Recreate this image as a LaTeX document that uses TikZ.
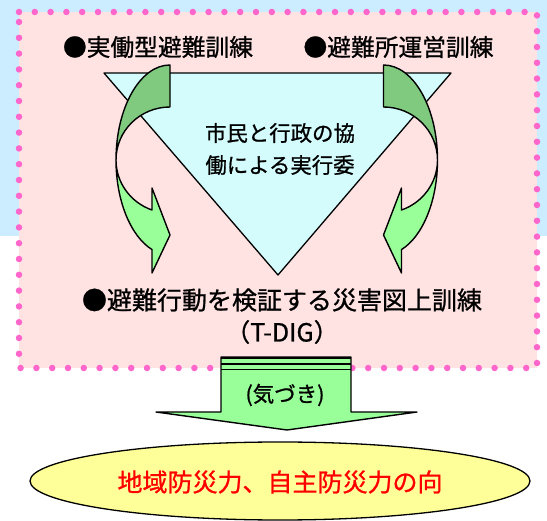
\documentclass[tikz,border=0pt]{standalone}
\usepackage{fontspec}
\newfontfamily\jp{Noto Sans CJK JP}[FakeBold=0.9]
\definecolor{bgblue}{HTML}{CCECFF}
\definecolor{boxpink}{HTML}{FFE2E2}
\definecolor{dotpink}{HTML}{FF66CC}
\definecolor{tricyan}{HTML}{D4FCFC}
\definecolor{darkgreen}{HTML}{7FCA7F}
\definecolor{lightgreen}{HTML}{99FF99}
\definecolor{ellyellow}{HTML}{FFFF99}
\begin{document}
\begin{tikzpicture}[x=1pt,y=-1pt,
  outl/.style={draw=black, line width=1.4pt, line join=round},
  lbl/.style={font=\jp\fontsize{23.75}{28}\selectfont, inner sep=0pt, text=black},
  tritext/.style={font=\jp\fontsize{21.4}{32}\selectfont, inner sep=0pt, align=center},
  biglbl/.style={font=\jp\fontsize{25}{30}\selectfont, inner sep=0pt},
  kiz/.style={font=\jp\fontsize{21.5}{25}\selectfont, inner sep=0pt},
  redtext/.style={font=\jp\fontsize{25}{30}\selectfont, inner sep=0pt, text=red}
]
\useasboundingbox (0,0) rectangle (547,521);
\fill[white] (0,0) rectangle (547,521);
% blue background
\fill[bgblue] (0,0) rectangle (547,236);
% pink box
\fill[boxpink] (19,12) rectangle (537,368);
\draw[dotpink, line width=6.5pt, line cap=round, dash pattern=on 0pt off 15.8pt] (19,12) -- (537,12) -- (537,368) -- (19,368) -- cycle;
% triangle
\draw[outl, fill=tricyan, line width=1.3pt] (104,73) -- (451,73) -- (278,275) -- cycle;
% left curved arrow
\draw[outl, fill=darkgreen] (170,65) arc[start angle=270, end angle=180, x radius=54, y radius=95]
  arc[start angle=180, end angle=270, x radius=54, y radius=53] -- cycle;
\draw[outl, fill=lightgreen] (116,160) arc[start angle=180, end angle=109.47, x radius=54, y radius=95]
  -- (152,273) -- (170,235) -- (152,188) -- (152,210)
  arc[start angle=109.47, end angle=180, x radius=54, y radius=53] -- cycle;
% right curved arrow
\draw[outl, fill=darkgreen] (383.5,65) arc[start angle=270, end angle=360, x radius=54, y radius=95]
  arc[start angle=0, end angle=-90, x radius=54, y radius=53] -- cycle;
\draw[outl, fill=lightgreen] (437.5,160) arc[start angle=0, end angle=70.53, x radius=54, y radius=95]
  -- (401.5,273) -- (383.5,235) -- (401.5,188) -- (401.5,210)
  arc[start angle=70.53, end angle=0, x radius=54, y radius=53] -- cycle;
% texts
\node[lbl] (l1) at (158,47) {●実働型避難訓練};
\node[lbl] (l2) at (398.5,47) {●避難所運営訓練};
\node[tritext] (tri) at (280,149) {市民と行政の協\\働による実行委};
\node[biglbl] (l3) at (282,300) {●避難行動を検証する災害図上訓練};
\node[biglbl] (l4) at (282,332) {（T-DIG）};
% down striped arrow
\draw[outl, fill=lightgreen] (221,357) -- (351,357) -- (351,412) -- (417,412) -- (287,430) -- (156,412) -- (221,412) -- cycle;
\draw[black, line width=2pt] (221,358.3) -- (351,358.3);
\draw[black, line width=1.6pt] (221,364.3) -- (351,364.3);
\draw[black, line width=1.6pt] (221,369.7) -- (351,369.7);
\node[kiz] (kz) at (285,395) {(気づき)};
% ellipse
\draw[black, line width=1.3pt, fill=ellyellow] (280,481) ellipse[x radius=250, y radius=39];
\node[redtext] (goal) at (280,482) {地域防災力、自主防災力の向};
\end{tikzpicture}
\end{document}
